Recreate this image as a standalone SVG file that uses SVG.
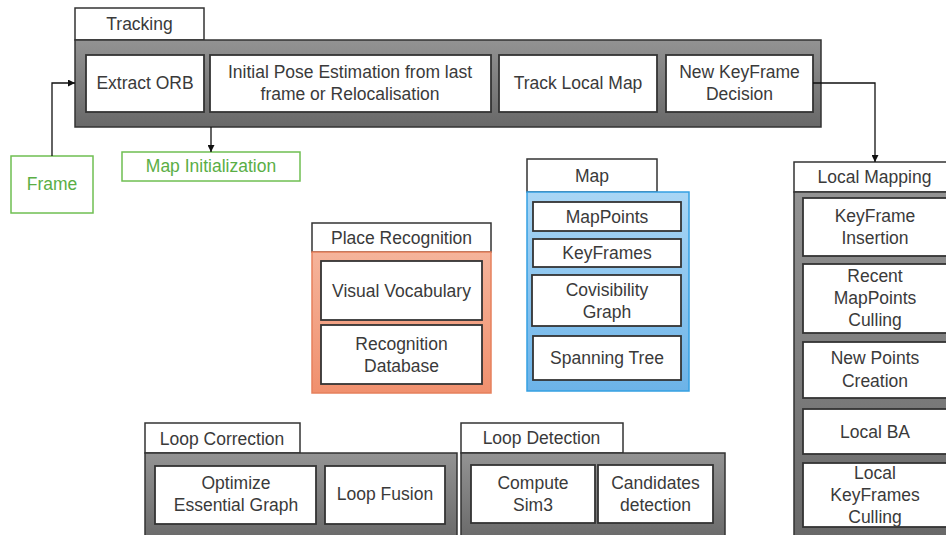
<svg xmlns="http://www.w3.org/2000/svg" width="946" height="535" viewBox="0 0 946 535">
<defs>
<linearGradient id="gGray" x1="0" y1="0" x2="0" y2="1"><stop offset="0" stop-color="#939393"/><stop offset="1" stop-color="#686868"/></linearGradient>
<linearGradient id="gSalmon" x1="0" y1="0" x2="0" y2="1"><stop offset="0" stop-color="#f5b49b"/><stop offset="1" stop-color="#f0906e"/></linearGradient>
<linearGradient id="gBlue" x1="0" y1="0" x2="0" y2="1"><stop offset="0" stop-color="#a9d6f5"/><stop offset="1" stop-color="#6cb3e8"/></linearGradient>
<marker id="arr" viewBox="0 0 8 8" refX="8" refY="4" markerWidth="7" markerHeight="7" markerUnits="userSpaceOnUse" orient="auto"><path d="M0,0 L8,4 L0,8 Z" fill="#111"/></marker>
</defs>
<style>
text{font-family:"Liberation Sans",Arial,sans-serif;font-size:17.5px;fill:#3a3a3a;text-anchor:middle;dominant-baseline:central}
.tab{fill:#fff;stroke:#333;stroke-width:1.5}
.gp{fill:url(#gGray);stroke:#333;stroke-width:1.5}
.box{fill:#fff;stroke:#333;stroke-width:1.8}
.grn{fill:#fff;stroke:#6fbf52;stroke-width:1.5}
.gt{fill:#5aae45}
.con{fill:none;stroke:#111;stroke-width:1.3;marker-end:url(#arr)}
</style>
<rect width="946" height="535" fill="#fff"/>

<g id="tracking">
<rect class="tab" x="75" y="8" width="129" height="32"/>
<text x="139.5" y="24">Tracking</text>
<rect class="gp" x="75" y="40" width="746" height="87"/>
<g id="extract-orb"><rect class="box" x="86" y="55" width="118" height="57"/><text x="145" y="83">Extract ORB</text></g>
<g id="initial-pose"><rect class="box" x="210" y="55" width="281" height="57"/><text x="350" y="72">Initial Pose Estimation from last</text><text x="350" y="94">frame or Relocalisation</text></g>
<g id="track-local-map"><rect class="box" x="499" y="55" width="158" height="57"/><text x="578" y="83">Track Local Map</text></g>
<g id="new-keyframe"><rect class="box" x="666" y="55" width="147" height="57"/><text x="739.5" y="72">New KeyFrame</text><text x="739.5" y="94">Decision</text></g>
</g>

<g id="frame"><rect class="grn" x="11" y="156" width="82" height="57"/><text class="gt" x="52" y="184">Frame</text></g>
<g id="map-init"><rect class="grn" x="122" y="152" width="178" height="29"/><text class="gt" x="211" y="166">Map Initialization</text></g>

<g id="map">
<rect class="tab" x="527" y="159" width="130" height="33"/>
<text x="592" y="176">Map</text>
<rect x="527" y="192" width="162" height="199" fill="url(#gBlue)" stroke="#35a0e2" stroke-width="1.5"/>
<g id="mappoints"><rect class="box" x="533" y="202" width="148" height="29"/><text x="607" y="217">MapPoints</text></g>
<g id="keyframes"><rect class="box" x="533" y="239" width="148" height="28"/><text x="607" y="253">KeyFrames</text></g>
<g id="covisibility"><rect class="box" x="532" y="275" width="149" height="51"/><text x="607" y="290">Covisibility</text><text x="607" y="312">Graph</text></g>
<g id="spanning-tree"><rect class="box" x="533" y="336" width="148" height="44"/><text x="607" y="358">Spanning Tree</text></g>
</g>

<g id="place-recognition">
<rect class="tab" x="312" y="223" width="179" height="29"/>
<text x="401.5" y="238">Place Recognition</text>
<rect x="312" y="252" width="179" height="141" fill="url(#gSalmon)" stroke="#e6805c" stroke-width="1.5"/>
<g id="visual-vocabulary"><rect class="box" x="321" y="261" width="161" height="59"/><text x="401.5" y="291">Visual Vocabulary</text></g>
<g id="recognition-db"><rect class="box" x="321" y="325" width="161" height="59"/><text x="401.5" y="344">Recognition</text><text x="401.5" y="366">Database</text></g>
</g>

<g id="local-mapping">
<rect class="tab" x="794" y="162" width="160" height="30"/>
<text x="874.5" y="177">Local Mapping</text>
<rect class="gp" x="794" y="192" width="160" height="350"/>
<g id="kf-insertion"><rect class="box" x="803" y="198" width="150" height="58"/><text x="875" y="216">KeyFrame</text><text x="875" y="238">Insertion</text></g>
<g id="mp-culling"><rect class="box" x="803" y="264" width="150" height="69"/><text x="875" y="276">Recent</text><text x="875" y="298">MapPoints</text><text x="875" y="320">Culling</text></g>
<g id="new-points"><rect class="box" x="803" y="342" width="150" height="56"/><text x="875" y="358">New Points</text><text x="875" y="381">Creation</text></g>
<g id="local-ba"><rect class="box" x="803" y="409" width="150" height="45"/><text x="875" y="432">Local BA</text></g>
<g id="kf-culling"><rect class="box" x="803" y="463" width="150" height="64"/><text x="875" y="473">Local</text><text x="875" y="495">KeyFrames</text><text x="875" y="517">Culling</text></g>
</g>

<g id="loop-correction">
<rect class="tab" x="145" y="423" width="155" height="30"/>
<text x="222" y="439">Loop Correction</text>
<rect class="gp" x="145" y="453" width="312" height="90"/>
<g id="optimize"><rect class="box" x="155" y="466" width="161" height="58"/><text x="236" y="483">Optimize</text><text x="236" y="505">Essential Graph</text></g>
<g id="loop-fusion"><rect class="box" x="325" y="466" width="120" height="58"/><text x="385" y="494">Loop Fusion</text></g>
</g>

<g id="loop-detection">
<rect class="tab" x="461" y="423" width="162" height="30"/>
<text x="541.5" y="438">Loop Detection</text>
<rect class="gp" x="461" y="453" width="264" height="90"/>
<g id="compute-sim3"><rect class="box" x="471" y="465" width="124" height="58"/><text x="533" y="483">Compute</text><text x="533" y="505">Sim3</text></g>
<g id="candidates"><rect class="box" x="598" y="465" width="115" height="58"/><text x="655.5" y="483">Candidates</text><text x="655.5" y="505">detection</text></g>
</g>

<g id="connectors">
<path class="con" d="M52,156 V83 H75"/>
<path class="con" d="M211,127 V152"/>
<path class="con" d="M813,83 H875 V162"/>
</g>
</svg>
